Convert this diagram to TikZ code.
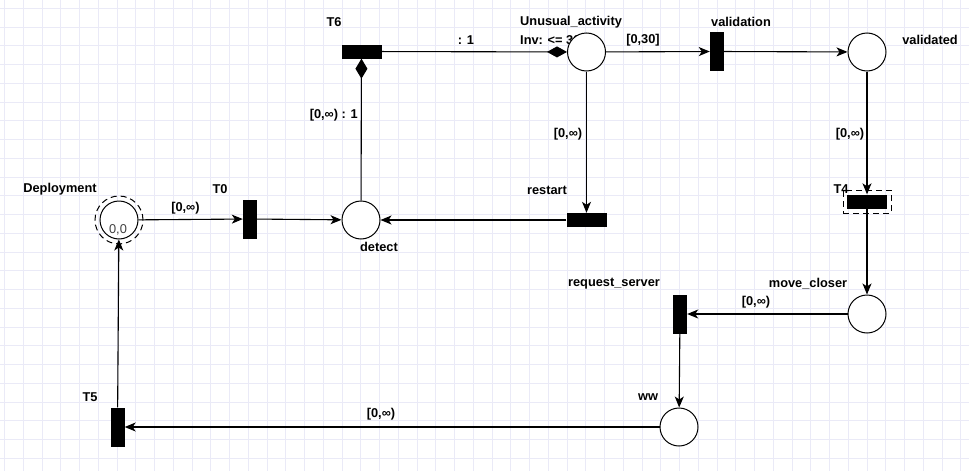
\documentclass[tikz,border=0pt]{standalone}
\usepackage{fontspec}
\setmainfont{Liberation Sans}
\usetikzlibrary{arrows.meta}
\definecolor{gridc}{RGB}{234,234,247}
\begin{document}
\begin{tikzpicture}[x=1pt,y=-1pt,
  place/.style={circle,draw,line width=1pt,fill=white,minimum size=38pt,inner sep=0pt},
  vtrans/.style={rectangle,fill=black,minimum width=14pt,minimum height=39pt,inner sep=0pt},
  htrans/.style={rectangle,fill=black,minimum width=40pt,minimum height=14pt,inner sep=0pt},
  lbl/.style={font=\fontsize{12.8}{14}\selectfont\bfseries,inner sep=0pt},
  arc/.style={line width=1.1pt,-{Stealth[length=11pt,width=9pt,inset=3pt]}},
  readarc/.style={line width=1.1pt},
  dashring/.style={draw,line width=1pt,dash pattern=on 6pt off 4pt},
]
\useasboundingbox (0,0) rectangle (969,471);
\fill[white] (0,0) rectangle (969,471);
% grid
\foreach \i in {0,...,51} {\draw[gridc,line width=0.8pt] ({4.6+18.75*\i},0) -- ({4.6+18.75*\i},471);}
\foreach \j in {0,...,25} {\draw[gridc,line width=0.8pt] (0,{8.2+18.75*\j}) -- (969,{8.2+18.75*\j});}

% label partly covered by the place
\node[lbl,anchor=west] (invl) at (520,40) {Inv: <= 30};

% places
\node[place] (dep) at (119,220) {};
\node[circle,dashring,minimum size=48pt,inner sep=0pt] (depring) at (119,220) {};
\node[font=\fontsize{12.8}{14}\selectfont,text=black!75,inner sep=0pt] (deptok) at (118,230) {0,0};
\node[place] (det) at (361,220) {};
\node[place] (ua) at (586.5,52) {};
\node[place] (vd) at (867,52) {};
\node[place] (mc) at (867,314) {};
\node[place] (ww) at (679,427) {};

% transitions
\node[vtrans] (T0) at (250,219) {};
\node[htrans] (T6) at (361.5,51.5) {};
\node[vtrans] (val) at (717,51.5) {};
\node[htrans] (rs) at (586.5,220) {};
\node[htrans] (T4) at (867,201.5) {};
\node[rectangle,dashring,minimum width=48pt,minimum height=23pt,inner sep=0pt] (T4box) at (867,201.5) {};
\node[vtrans] (req) at (680,314) {};
\node[vtrans] (T5) at (117.5,427) {};

% names
\node[lbl] (ldep) at (60,189) {Deployment};
\node[lbl] (lT0) at (220,189) {T0};
\node[lbl] (ldet) at (379,247) {detect};
\node[lbl] (lT6) at (334,22) {T6};
\node[lbl,anchor=west] (lua) at (520,22) {Unusual\_activity};
\node[lbl] (lval) at (741,22) {validation};
\node[lbl] (lvd) at (930,40) {validated};
\node[lbl] (lrs) at (547,190) {restart};
\node[lbl] (lT4) at (841,189) {T4};
\node[lbl] (lmc) at (808,284) {move\_closer};
\node[lbl] (lreq) at (614,284) {request\_server};
\node[lbl] (lww) at (648,397) {ww};
\node[lbl] (lT5) at (90,397) {T5};

% arcs
\draw[arc] (dep) -- (T0) node[lbl,pos=0.45,above=5pt] (a1) {[0,∞)};
\draw[arc] (T0) -- (det);
\draw[readarc,{Diamond[length=20pt,width=12pt]}-] (T6) -- (det);
\node[lbl,anchor=east] (a2) at (358,115) {[0,∞) : 1};
\draw[readarc,-{Diamond[length=20pt,width=11pt]}] (T6) -- (ua);
\node[lbl] (a3) at (466,40) {: 1};
\draw[arc] (ua) -- (val);
\node[lbl] (a4) at (643,40) {[0,30]};
\draw[arc] (val) -- (vd);
\draw[arc] (vd) -- (T4);
\node[lbl] (a5) at (850,134) {[0,∞)};
\draw[arc] (ua) -- (rs);
\node[lbl] (a6) at (568,134) {[0,∞)};
\draw[arc] (rs) -- (det);
\draw[arc] (T4) -- (mc);
\draw[arc] (mc) -- (req);
\node[lbl] (a7) at (756,302) {[0,∞)};
\draw[arc] (req) -- (ww);
\draw[arc] (ww) -- (T5);
\node[lbl] (a8) at (381,414) {[0,∞)};
\draw[arc] (T5) -- (dep);
\end{tikzpicture}
\end{document}
